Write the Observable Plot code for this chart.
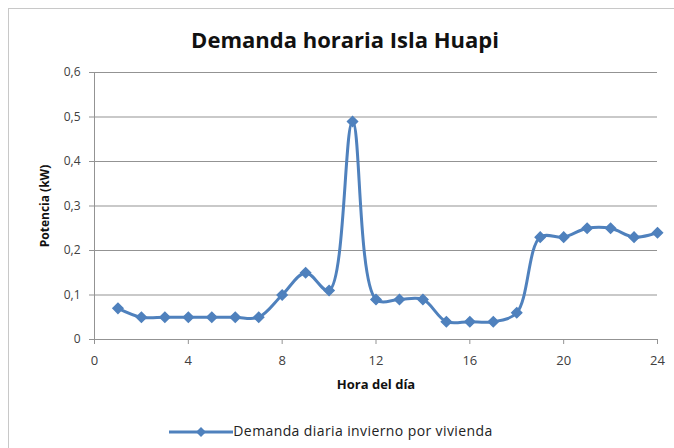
<!DOCTYPE html>
<html>
<head>
<meta charset="utf-8">
<script src="https://cdn.jsdelivr.net/npm/d3@7"></script>
<script src="https://cdn.jsdelivr.net/npm/@observablehq/plot@0.6"></script>
<style>
  html, body { margin: 0; padding: 0; background: #fff; }
  #wrap { position: relative; width: 674px; height: 448px; overflow: hidden; font-family: "Open Sans", sans-serif; }
  #frame { position: absolute; left: 8px; top: 8px; width: 700px; height: 470px; border: 1px solid #c8c8c8; }
  #title { position: absolute; left: 0; width: 690px; top: 24px; text-align: center; font-weight: bold; font-size: 22px; color: #111; }
  #chart { position: absolute; left: 0; top: 60px; }
  #legend { position: absolute; left: 0; width: 662px; top: 421px; text-align: center; font-size: 14px; letter-spacing: 0.4px; color: #222; }
  #legend svg { vertical-align: middle; }
</style>
</head>
<body>
<div id="wrap">
  <div id="frame"></div>
  <div id="title">Demanda horaria Isla Huapi</div>
  <div id="chart"></div>
  <div id="legend"><svg width="64" height="12"><line x1="0" y1="6" x2="64" y2="6" stroke="#4f81bd" stroke-width="3"/><path d="M32,1 L37,6 L32,11 L27,6 Z" fill="#4f81bd"/></svg><span>Demanda diaria invierno por vivienda</span></div>
</div>
<script>
const hours = [1,2,3,4,5,6,7,8,9,10,11,12,13,14,15,16,17,18,19,20,21,22,23,24];
const demanda = [0.07,0.05,0.05,0.05,0.05,0.05,0.05,0.10,0.15,0.11,0.49,0.09,0.09,0.09,0.04,0.04,0.04,0.06,0.23,0.23,0.25,0.25,0.23,0.24];
const xTicks = [0,4,8,12,16,20,24];
const yTicks = [0,0.1,0.2,0.3,0.4,0.5,0.6];

const data = hours.map((h, i) => ({hora: h, potencia: demanda[i]}));
const blue = "#4f81bd";
const fmt = d => d === 0 ? "0" : String(d).replace(".", ",");

const chart = Plot.plot({
  width: 674,
  height: 340,
  marginTop: 12,
  marginBottom: 61,
  marginLeft: 94,
  marginRight: 17,
  style: {fontFamily: "Open Sans, sans-serif", fontSize: "12px", color: "#404040", background: "transparent"},
  x: {domain: [0, 24]},
  y: {domain: [0, 0.6]},
  marks: [
    Plot.ruleY(yTicks.slice(1), {stroke: "#939393", strokeWidth: 1}),
    Plot.ruleX([0], {stroke: "#939393"}),
    Plot.ruleY([0], {stroke: "#939393"}),
    Plot.axisY({ticks: yTicks, tickFormat: fmt, tickSize: 5, tickPadding: 9, stroke: "#939393", label: "Potencia (kW)", labelArrow: "none", labelAnchor: "center", labelOffset: 54, fontSize: 12}),
    Plot.axisX({ticks: xTicks, tickFormat: d => String(d), tickSize: 5, tickPadding: 11, stroke: "#939393", label: "Hora del día", labelArrow: "none", labelAnchor: "center", labelOffset: 49, fontSize: 13}),
    Plot.line(data, {x: "hora", y: "potencia", stroke: blue, strokeWidth: 3, curve: "catmull-rom"}),
    Plot.dot(data, {x: "hora", y: "potencia", symbol: "diamond2", fill: blue, stroke: blue, r: 4.5})
  ]
});
// Bold axis labels, strip any arrows
chart.querySelectorAll("g[aria-label='y-axis label'] text, g[aria-label='x-axis label'] text").forEach(t => {
  t.setAttribute("font-weight", "bold");
  t.setAttribute("fill", "#111");
  t.textContent = t.textContent.replace(/\s*[↑→↓←]\s*/g, "");
});
document.getElementById("chart").appendChild(chart);
</script>
</body>
</html>
